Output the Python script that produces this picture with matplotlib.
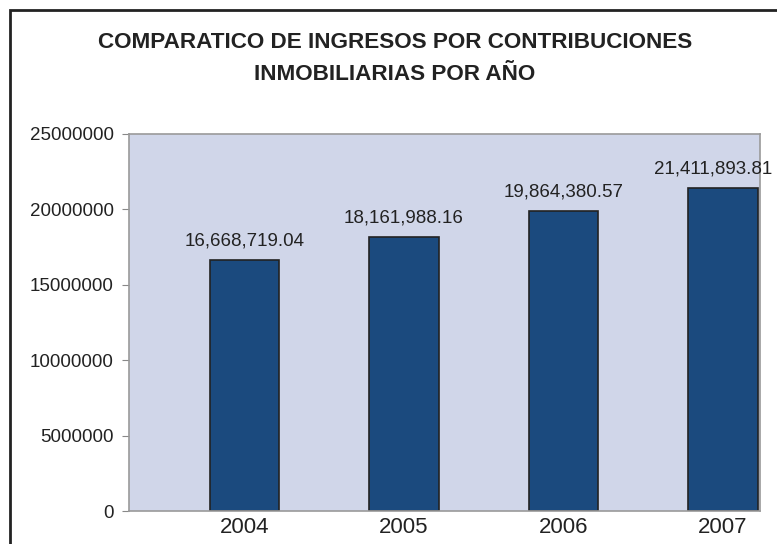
import matplotlib.pyplot as plt
from matplotlib.patches import Rectangle

# Datos
anios = ["2004", "2005", "2006", "2007"]
ingresos = [16668719.04, 18161988.16, 19864380.57, 21411893.81]
etiquetas = ["16,668,719.04", "18,161,988.16", "19,864,380.57", "21,411,893.81"]
yticks = [0, 5000000, 10000000, 15000000, 20000000, 25000000]

plt.rcParams['font.family'] = ['Liberation Sans', 'DejaVu Sans']

W, H = 777, 544
fig = plt.figure(figsize=(W / 100, H / 100), dpi=100)

# marco exterior (cortado a la derecha y abajo)
fig.patches.append(Rectangle((10 / W, -0.05), 1.2, 1 - 10 / H + 0.05,
                             transform=fig.transFigure, fill=False,
                             edgecolor="#222222", linewidth=2))

ax = fig.add_axes([129 / W, 1 - 511 / H, (760 - 129) / W, (511 - 134) / H])
ax.set_facecolor("#d0d6e9")

x = range(len(anios))
ax.bar(x, ingresos, width=0.433, color="#1b4a7e", edgecolor="#222222", linewidth=1.2)

for i, (v, t) in enumerate(zip(ingresos, etiquetas)):
    # la ultima etiqueta se corre un poco a la izquierda, como en el original
    dx = -0.06 if i == len(anios) - 1 else 0
    ax.text(i + dx, v + 700000, t, ha="center", va="bottom", fontsize=13.5,
            color="#222222", clip_on=False)

ax.set_xlim(-0.724, 3.232)
ax.set_ylim(0, 25000000)
ax.set_yticks(yticks)
ax.set_yticklabels([str(v) for v in yticks], fontsize=13.5, color="#222222")
ax.set_xticks(list(x))
ax.set_xticklabels(anios, fontsize=16, color="#222222")
ax.tick_params(axis="x", length=0, pad=4)
ax.tick_params(axis="y", length=5, color="#888888", pad=6, direction="out")
for s in ax.spines.values():
    s.set_color("#9a9a9a")
    s.set_linewidth(1.2)

fig.text(395 / W, 1 - 48 / H, "COMPARATICO DE INGRESOS POR CONTRIBUCIONES",
         ha="center", va="baseline", fontsize=16.2, fontweight="bold", color="#222222")
fig.text(395 / W, 1 - 80 / H, "INMOBILIARIAS POR AÑO",
         ha="center", va="baseline", fontsize=16.2, fontweight="bold", color="#222222")

fig.savefig("out.png", dpi=100)
